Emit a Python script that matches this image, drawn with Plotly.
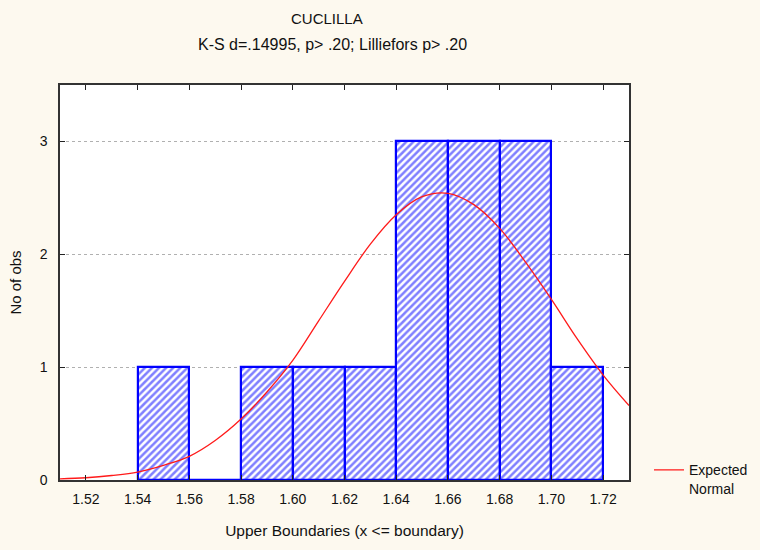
import plotly.graph_objects as go

# Histogram data
bin_centers = [1.55, 1.57, 1.59, 1.61, 1.63, 1.65, 1.67, 1.69, 1.71]
counts = [1, 0, 1, 1, 1, 3, 3, 3, 1]
bin_width = 0.02

# Expected normal curve
curve_x = [1.51, 1.52, 1.53, 1.54, 1.55, 1.56, 1.57, 1.58, 1.59, 1.60, 1.61, 1.62,
           1.63, 1.64, 1.65, 1.66, 1.67, 1.68, 1.69, 1.70, 1.71, 1.72, 1.73]
curve_y = [0.01, 0.02, 0.04, 0.07, 0.13, 0.21, 0.35, 0.54, 0.78, 1.06, 1.41, 1.76,
           2.09, 2.35, 2.51, 2.54, 2.44, 2.23, 1.93, 1.60, 1.25, 0.93, 0.66]

x_ticks = [1.52, 1.54, 1.56, 1.58, 1.60, 1.62, 1.64, 1.66, 1.68, 1.70, 1.72]
x_tick_labels = ["1.52", "1.54", "1.56", "1.58", "1.60", "1.62", "1.64", "1.66",
                 "1.68", "1.70", "1.72"]
y_ticks = [0, 1, 2, 3]

FONT = "Liberation Sans, Arial, sans-serif"
BG = "#FDF9EF"

fig = go.Figure()
fig.add_trace(go.Bar(
    x=bin_centers, y=counts, width=[bin_width] * len(bin_centers),
    marker=dict(color="white",
                line=dict(color="#0000FF", width=2.2),
                pattern=dict(shape="/", fgcolor="#0000FF", bgcolor="white",
                             size=5, solidity=0.5)),
    showlegend=False, hoverinfo="skip",
))
fig.add_trace(go.Scatter(
    x=curve_x, y=curve_y, mode="lines", name="Expected<br>Normal",
    line=dict(color="#FF1A1A", width=1.3, shape="spline"),
))

PW, PH = 569, 395
fig.update_layout(
    width=760, height=550,
    paper_bgcolor=BG, plot_bgcolor="white",
    margin=dict(l=60, r=131, t=85, b=70, autoexpand=False),
    font=dict(family=FONT, size=14, color="#111"),
    bargap=0,
    showlegend=True,
    legend=dict(x=(649 - 60) / PW, y=0.065, xanchor="left", yanchor="top",
                bgcolor="rgba(0,0,0,0)", valign="top",
                font=dict(family=FONT, size=14), itemwidth=30),
)
fig.add_annotation(text="CUCLILLA", xref="paper", yref="paper",
                   x=(327 - 60) / PW, y=1 + (85 - 18) / PH, yanchor="middle",
                   showarrow=False, font=dict(size=15, family=FONT))
fig.add_annotation(text="K-S d=.14995, p> .20; Lilliefors p> .20", xref="paper", yref="paper",
                   x=(332 - 60) / PW, y=1 + (85 - 45) / PH, yanchor="middle",
                   showarrow=False, font=dict(size=16, family=FONT))

fig.update_xaxes(
    range=[1.51, 1.73], tickvals=x_ticks, ticktext=x_tick_labels,
    ticks="inside", ticklen=5, tickcolor="#222", mirror="ticks",
    showline=True, linecolor="#333", linewidth=1.5, showgrid=False, zeroline=False,
    tickfont=dict(size=14), ticklabelstandoff=5,
    title=dict(text="Upper Boundaries (x <= boundary)", font=dict(size=15.5), standoff=20),
)
fig.update_yaxes(
    range=[0, 3.5], tickvals=y_ticks, ticks="inside", ticklen=5, tickcolor="#222",
    mirror="ticks", showline=True, linecolor="#333", linewidth=1.5,
    showgrid=True, gridcolor="#b0b0b0", griddash="dot", gridwidth=1, zeroline=False,
    tickfont=dict(size=14), ticklabelstandoff=8,
    title=dict(text="No of obs", font=dict(size=15), standoff=14),
)

fig.write_html(
    "out.html",
    config={"displayModeBar": False},
    post_script="document.body.style.margin='0';document.body.style.background='%s';" % BG,
)
